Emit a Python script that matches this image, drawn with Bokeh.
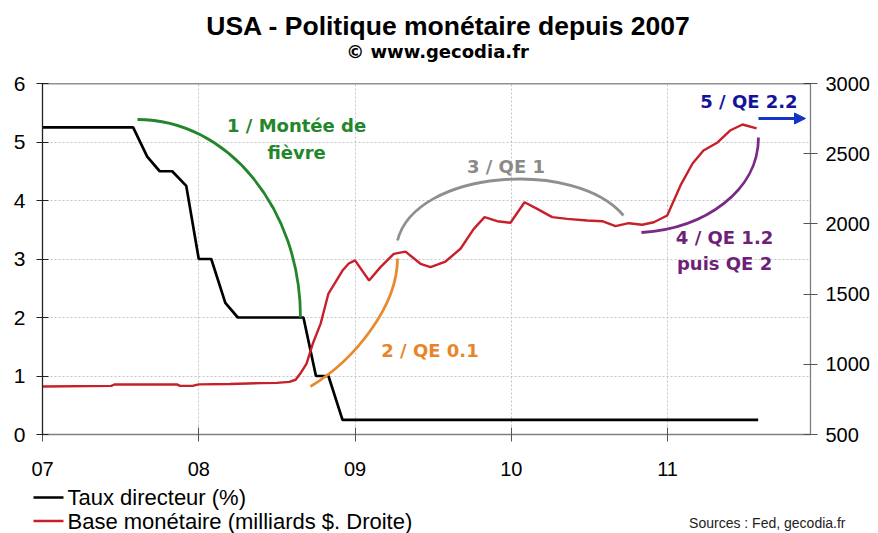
from bokeh.plotting import figure
from bokeh.models import (Range1d, LinearAxis, FixedTicker, Label, Span, Arrow, NormalHead)
from bokeh.layouts import column
from bokeh.embed import file_html
from bokeh.resources import INLINE

# ---------------- data ----------------
# Fed funds target rate (%), x in decimal years
rate_x = [2007.0, 2007.58, 2007.67, 2007.75, 2007.83, 2007.92, 2008.0, 2008.08, 2008.17,
          2008.25, 2008.67, 2008.75, 2008.83, 2008.92, 2011.58]
rate_y = [5.25, 5.25, 4.75, 4.5, 4.5, 4.25, 3.0, 3.0, 2.25,
          2.0, 2.0, 1.0, 1.0, 0.25, 0.25]

# Monetary base (billions $), right axis
base_x = [2007.0, 2007.44, 2007.46, 2007.86, 2007.88, 2007.96, 2008.0, 2008.2, 2008.4, 2008.5,
          2008.58, 2008.62, 2008.65, 2008.69, 2008.73, 2008.78, 2008.83, 2008.92, 2008.96,
          2009.0, 2009.09, 2009.163, 2009.248, 2009.323, 2009.419, 2009.483, 2009.579,
          2009.675, 2009.76, 2009.829, 2009.91, 2009.995, 2010.085, 2010.166, 2010.262,
          2010.358, 2010.486, 2010.582, 2010.667, 2010.752, 2010.838, 2010.912, 2010.998,
          2011.083, 2011.16, 2011.23, 2011.32, 2011.40, 2011.48, 2011.57]
base_y = [842, 846, 856, 857, 846, 846, 857, 860, 866, 868,
          875, 890, 934, 1005, 1148, 1290, 1504, 1668, 1718,
          1740, 1597, 1692, 1787, 1803, 1716, 1692, 1732,
          1823, 1965, 2048, 2019, 2008, 2154, 2107, 2048,
          2036, 2024, 2019, 1984, 2005, 1994, 2012, 2060,
          2274, 2430, 2523, 2580, 2665, 2708, 2680]

x_ticks = [2007, 2008, 2009, 2010, 2011]
x_tick_labels = ["07", "08", "09", "10", "11"]
left_ticks = [0, 1, 2, 3, 4, 5, 6]
right_ticks = [500, 1000, 1500, 2000, 2500, 3000]

title_text = "USA - Politique monétaire depuis 2007"
subtitle_text = "© www.gecodia.fr"
legend_labels = ["Taux directeur (%)", "Base monétaire (milliards $. Droite)"]
legend_colors = ["black", "#c8202a"]
source_text = "Sources : Fed, gecodia.fr"

W = 878
TOP_H = 71
MAIN_H = 413
BOT_H = 533 - TOP_H - MAIN_H

TICK_FONT = "Liberation Sans"
ANNOT = "DejaVu Sans"


def blank_fig(h, y_top):
    f = figure(width=W, height=h, output_backend="svg", toolbar_location=None,
               x_range=Range1d(0, W), y_range=Range1d(y_top + h, y_top),
               x_axis_type=None, y_axis_type=None, title=None,
               min_border=0, min_border_left=0, min_border_right=0,
               min_border_top=0, min_border_bottom=0, frame_align=False)
    f.outline_line_color = None
    f.grid.visible = False
    f.background_fill_color = "white"
    f.border_fill_color = "white"
    return f


# ---------------- top: titles ----------------
top = blank_fig(TOP_H, 0)
top.add_layout(Label(x=448, y=25.7, text=title_text, text_font=TICK_FONT,
                     text_font_style="bold", text_font_size="26.5px", text_color="black",
                     text_align="center", text_baseline="alphabetic"))
top.add_layout(Label(x=437, y=50.5, text=subtitle_text, text_font=ANNOT,
                     text_font_style="bold", text_font_size="18px", text_color="black",
                     text_align="center", text_baseline="alphabetic"))

# ---------------- main chart ----------------
p = figure(width=W, height=MAIN_H, output_backend="svg", toolbar_location=None,
           x_range=Range1d(2007.0, 2011.915), y_range=Range1d(0, 6), title=None,
           min_border_left=42, min_border_right=68, min_border_top=12,
           min_border_bottom=MAIN_H - 12 - 351, frame_align=False)
p.outline_line_color = None
p.background_fill_color = "white"
p.border_fill_color = "white"
p.extra_y_ranges = {"right": Range1d(500, 3000)}

xa = p.xaxis[0]
xa.ticker = FixedTicker(ticks=x_ticks)
xa.major_label_overrides = {t: l for t, l in zip(x_ticks, x_tick_labels)}
xa.axis_line_color = "#7f7f7f"
xa.axis_line_width = 1.3
xa.major_tick_line_color = "#555555"
xa.major_tick_in = 7
xa.major_tick_out = 7
xa.minor_tick_line_color = None
xa.major_label_text_font = TICK_FONT
xa.major_label_text_font_size = "20px"
xa.major_label_text_color = "black"
xa.major_label_standoff = 20

ya = p.yaxis[0]
ya.ticker = FixedTicker(ticks=left_ticks)
ya.axis_line_color = "#222222"
ya.axis_line_width = 1.3
ya.major_tick_line_color = "#222222"
ya.major_tick_in = 6
ya.major_tick_out = 6
ya.minor_tick_line_color = None
ya.major_label_text_font = TICK_FONT
ya.major_label_text_font_size = "21px"
ya.major_label_text_color = "black"
ya.major_label_standoff = 11

ra = LinearAxis(y_range_name="right", ticker=FixedTicker(ticks=right_ticks))
ra.axis_line_color = "#7f7f7f"
ra.axis_line_width = 1.3
ra.major_tick_line_color = "#555555"
ra.major_tick_in = 7
ra.major_tick_out = 7
ra.minor_tick_line_color = None
ra.major_label_text_font = TICK_FONT
ra.major_label_text_font_size = "20px"
ra.major_label_text_color = "black"
ra.major_label_standoff = 8
p.add_layout(ra, "right")

p.xgrid.ticker = FixedTicker(ticks=x_ticks[1:])
p.ygrid.ticker = FixedTicker(ticks=left_ticks[1:-1])
for g in (p.xgrid[0], p.ygrid[0]):
    g.grid_line_color = "#c4c4c4"
    g.grid_line_dash = "2 2"
    g.grid_line_width = 1

p.add_layout(Span(location=6, dimension="width", line_color="#222222", line_width=1.5))

r_rate = p.line(rate_x, rate_y, line_color=legend_colors[0], line_width=2.7)
r_base = p.line(base_x, base_y, line_color=legend_colors[1], line_width=2.4,
                y_range_name="right")

# annotation arcs (bezier curves)
arcs = [
    (2007.608, 5.385, 2008.184, 5.385, 2008.651, 3.863, 2008.651, 2.0, "#23862a"),
    (2008.715, 0.821, 2009.003, 1.282, 2009.272, 2.205, 2009.272, 3.009, "#ea8a2e"),
    (2009.272, 3.316, 2009.387, 4.530, 2010.411, 4.718, 2010.718, 3.744, "#8f8f8f"),
    (2010.833, 3.453, 2011.243, 3.521, 2011.582, 4.171, 2011.582, 5.077, "#7a2a86"),
]
for (x0, y0, cx0, cy0, cx1, cy1, x1, y1, c) in arcs:
    p.bezier(x0=[x0], y0=[y0], cx0=[cx0], cy0=[cy0], cx1=[cx1], cy1=[cy1], x1=[x1], y1=[y1],
             line_color=c, line_width=2.8)

p.add_layout(Arrow(end=NormalHead(size=11, fill_color="#1535c8", line_color="#1535c8"),
                   x_start=2011.582, y_start=5.402, x_end=2011.883, y_end=5.402,
                   line_color="#1535c8", line_width=3))

annots = [
    ("1 / Montée de", 2008.626, 5.282, "#23862a"),
    ("fièvre", 2008.626, 4.829, "#23862a"),
    ("2 / QE 0.1", 2009.480, 1.444, "#e8852a"),
    ("3 / QE 1", 2009.966, 4.573, "#8a8a8a"),
    ("4 / QE 1.2", 2011.365, 3.376, "#6e1f78"),
    ("puis QE 2", 2011.365, 2.915, "#6e1f78"),
    ("5 / QE 2.2", 2011.521, 5.684, "#14149a"),
]
for t, x, y, c in annots:
    p.add_layout(Label(x=x, y=y, text=t, text_font=ANNOT, text_font_style="bold",
                       text_font_size="18px", text_color=c, text_align="center",
                       text_baseline="alphabetic"))

# ---------------- bottom: legend + source ----------------
bot_top = TOP_H + MAIN_H
bot = blank_fig(BOT_H, bot_top)
leg_rows = [497, 520.5]
bot.segment(x0=[33, 33], x1=[63, 63], y0=leg_rows, y1=leg_rows,
            line_color=legend_colors, line_width=2.6)
for lbl, yy in zip(legend_labels, leg_rows):
    bot.add_layout(Label(x=67, y=yy, text=lbl, text_font=TICK_FONT,
                         text_font_size="22px", text_color="black",
                         text_align="left", text_baseline="alphabetic"))
bot.add_layout(Label(x=845, y=522, text=source_text, text_font=TICK_FONT,
                     text_font_size="14px", text_color="#222222", text_align="right",
                     text_baseline="alphabetic"))

layout = column(top, p, bot, spacing=0)
open("out.html", "w").write(file_html(layout, INLINE))
